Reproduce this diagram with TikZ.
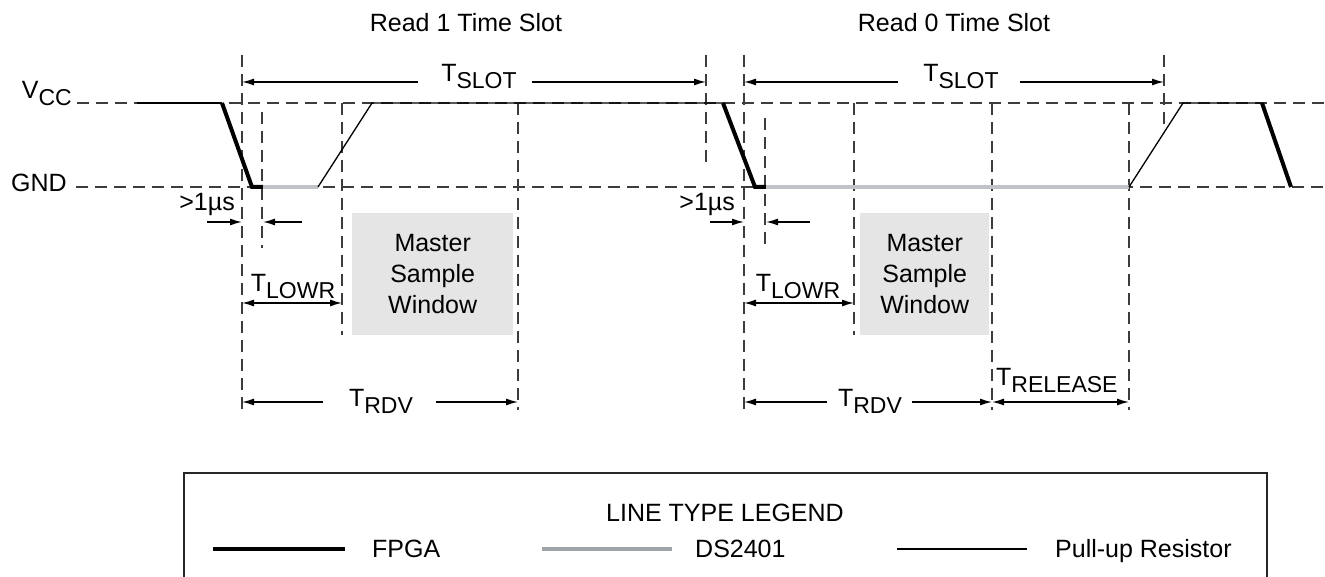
\documentclass[tikz,border=0pt]{standalone}
\usepackage{fontspec}
\setmainfont{Liberation Sans}
\usetikzlibrary{arrows.meta}
\definecolor{sigrey}{RGB}{192,196,200}
\definecolor{legrey}{RGB}{158,163,168}
\definecolor{winfill}{RGB}{229,229,229}
\definecolor{guidecol}{RGB}{60,60,60}
\newcommand\tsub[2]{#1\raisebox{-7pt}{\fontsize{23}{23}\selectfont #2}}
\begin{document}
\begin{tikzpicture}[x=1pt,y=-1pt,
  lbl/.style={font=\fontsize{25}{31}\selectfont, inner sep=0pt},
  guide/.style={draw=guidecol, line width=1.5pt, dash pattern=on 12pt off 7pt},
  fpga/.style={line width=4pt, line join=miter},
  dsig/.style={draw=sigrey, line width=4pt},
  pull/.style={line width=1.3pt},
  dimr/.style={line width=1.4pt, -{Latex[length=12pt,width=7pt]}},
  dimd/.style={line width=1.4pt, {Latex[length=12pt,width=7pt]}-{Latex[length=12pt,width=7pt]}},
  win/.style={fill=winfill, draw=none},
]
\useasboundingbox (0,0) rectangle (1325,577);

% titles
\node[lbl] (t1) at (466,23) {Read 1 Time Slot};
\node[lbl] (t0) at (954,23) {Read 0 Time Slot};

% level labels
\node[lbl, anchor=base east] (vcc) at (72,99) {\tsub{V}{CC}};
\node[lbl, anchor=base east] (gnd) at (67,192) {GND};

% horizontal guides
\draw[guide] (77,103) -- (1325,103);
\draw[guide] (76,187) -- (1325,187);

% vertical guides slot 1
\draw[guide] (242,55) -- (242,410);
\draw[guide] (262,112) -- (262,248);
\draw[guide] (342,103) -- (342,335);
\draw[guide] (518,103) -- (518,410);
\draw[guide] (706,55) -- (706,162);
% vertical guides slot 2
\draw[guide] (744,55) -- (744,410);
\draw[guide] (765,118) -- (765,250);
\draw[guide] (854,103) -- (854,335);
\draw[guide] (992,103) -- (992,410);
\draw[guide] (1129,103) -- (1129,410);
\draw[guide] (1164,55) -- (1164,128);

% master sample windows
\node[win, minimum width=161pt, minimum height=122pt, anchor=north west] (w1) at (352,213) {};
\node[lbl, align=center] at (w1.center) {Master\\Sample\\Window};
\node[win, minimum width=129pt, minimum height=122pt, anchor=north west] (w2) at (860,213) {};
\node[lbl, align=center] at (w2.center) {Master\\Sample\\Window};

% signal
\draw[pull] (137,103) -- (222,103);
\draw[fpga] (222,103) -- (252,187) -- (263,187);
\draw[dsig] (263,187) -- (318,187);
\draw[pull] (318,187) -- (372,103) -- (723,103);
\draw[fpga] (723,103) -- (755,187) -- (766,187);
\draw[dsig] (766,187) -- (1129,187);
\draw[pull] (1129,187) -- (1183,103) -- (1262,103);
\draw[fpga] (1262,103) -- (1291,187);

% TSLOT
\node[lbl, anchor=base] (ts1) at (479,82) {\tsub{T}{SLOT}};
\draw[dimr] (418,82) -- (242,82);
\draw[dimr] (532,82) -- (706,82);
\node[lbl, anchor=base] (ts2) at (961,82) {\tsub{T}{SLOT}};
\draw[dimr] (898,82) -- (744,82);
\draw[dimr] (1020,82) -- (1164,82);

% >1us
\node[lbl, anchor=base east] (us1) at (235,211) {>1µs};
\draw[dimr] (207,222) -- (242,222);
\draw[dimr] (302,222) -- (263,222);
\node[lbl, anchor=base east] (us2) at (735,211) {>1µs};
\draw[dimr] (710,222) -- (744,222);
\draw[dimr] (810,222) -- (766,222);

% TLOWR
\node[lbl, anchor=base] (tl1) at (293,291) {\tsub{T}{LOWR}};
\draw[dimd] (242,303) -- (342,303);
\node[lbl, anchor=base] (tl2) at (798,291) {\tsub{T}{LOWR}};
\draw[dimd] (744,303) -- (854,303);

% TRDV
\node[lbl, anchor=base] (tr1) at (381,406) {\tsub{T}{RDV}};
\draw[dimr] (323,402) -- (242,402);
\draw[dimr] (436,402) -- (518,402);
\node[lbl, anchor=base] (tr2) at (870,406) {\tsub{T}{RDV}};
\draw[dimr] (827,402) -- (744,402);
\draw[dimr] (912,402) -- (992,402);

% TRELEASE
\node[lbl, anchor=base west] (trel) at (996,385) {\tsub{T}{RELEASE}};
\draw[dimd] (992,402) -- (1129,402);

% legend
\draw[line width=2.8pt, draw=black!85] (184,580) -- (184,473) -- (1267,473) -- (1267,580);
\node[lbl, anchor=base] (lt) at (725,521) {LINE TYPE LEGEND};
\draw[fpga] (213,549) -- (345,549);
\node[lbl, anchor=base west] (lf) at (372,557) {FPGA};
\draw[draw=legrey, line width=4pt] (542,549) -- (672,549);
\node[lbl, anchor=base west] (ld) at (695,557) {DS2401};
\draw[pull] (897,549) -- (1027,549);
\node[lbl, anchor=base west] (lp) at (1055,557) {Pull-up Resistor};
\end{tikzpicture}
\end{document}
